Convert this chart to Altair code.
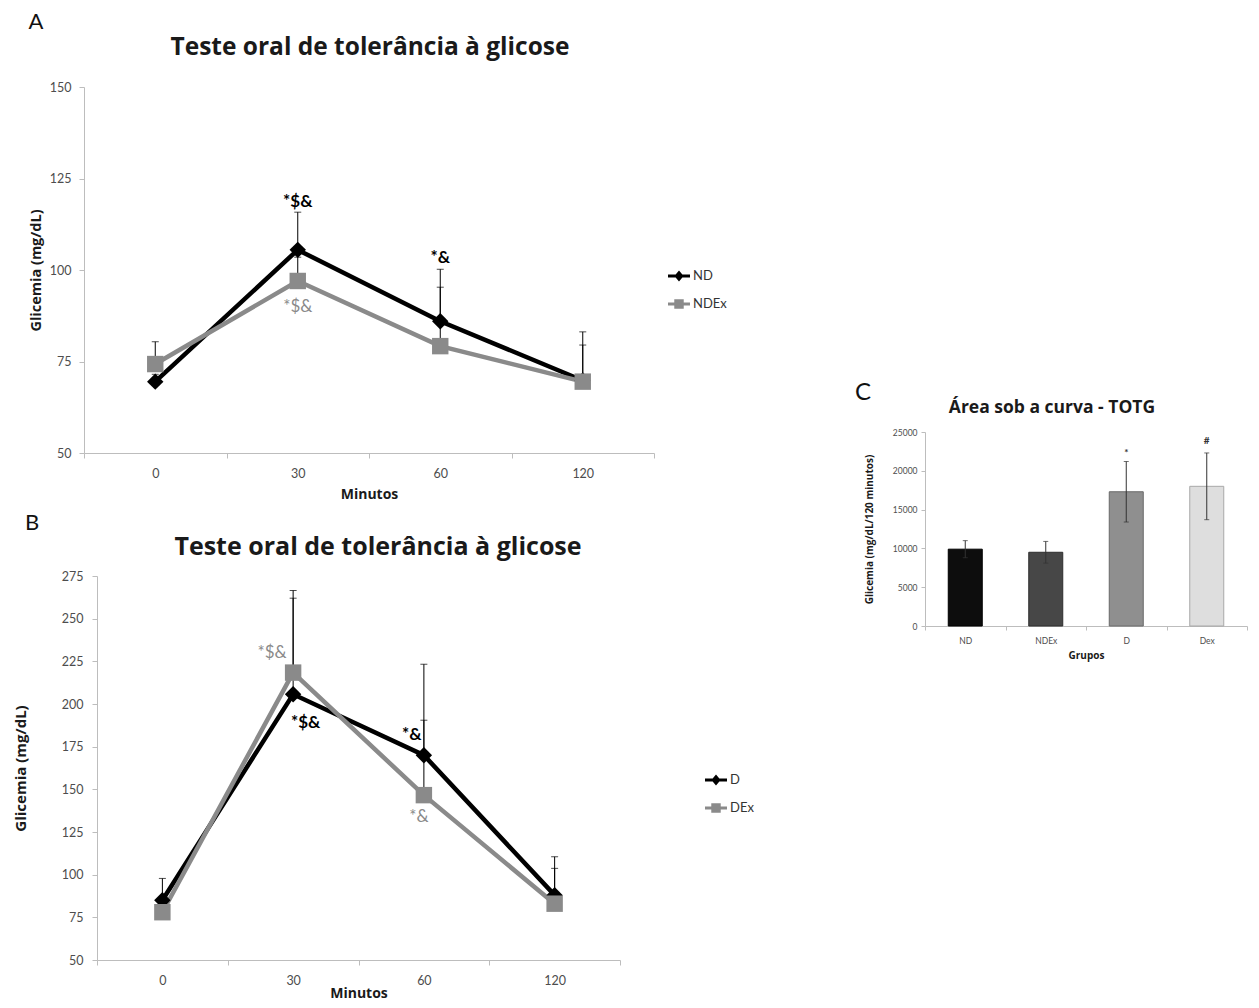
import altair as alt
import pandas as pd

FONT = "Lato"
TFONT = "Open Sans"

# ---------------- data ----------------
minutes = ["0", "30", "60", "120"]

a_series = ["ND", "NDEx"]
nd_mean = [69.5, 105.5, 86.0, 69.8]
nd_err = [2.0, 10.3, 14.2, 13.3]
ndex_mean = [74.3, 97.0, 79.2, 69.5]
ndex_err = [6.1, 6.5, 16.1, 10.0]

b_series = ["D", "DEx"]
d_mean = [85.0, 205.7, 170.0, 88.0]
d_err = [12.8, 60.8, 53.3, 22.5]
dex_mean = [78.0, 218.4, 146.6, 83.0]
dex_err = [6.0, 43.6, 43.9, 20.7]

groups = ["ND", "NDEx", "D", "Dex"]
auc_mean = [9900, 9500, 17300, 18000]
auc_err = [1100, 1400, 3900, 4300]

a_ann_text = ["*$&", "*$&", "*&"]
a_ann_minute = ["30", "30", "60"]
a_ann_value = [118.7, 90.0, 103.4]
a_ann_series = ["ND", "NDEx", "ND"]

b_ann_text = ["*$&", "*$&", "*&", "*&"]
b_ann_minute = ["30", "30", "60", "60"]
b_ann_value = [229.6, 188.6, 181.7, 133.9]
b_ann_series = ["DEx", "D", "D", "DEx"]

c_ann_text = ["*", "#"]
c_ann_group = ["D", "Dex"]
c_ann_value = [22300, 23900]

panel_letters = ["A", "B", "C"]
line_title = "Teste oral de tolerância à glicose"
auc_title = "Área sob a curva - TOTG"

# ---------------- styles ----------------
BLACK = "#000000"
GREY = "#8a8a8a"
AXIS_GREY = "#bdbdbd"
LABEL_GREY = "#4d4d4d"
TITLE_COL = "#1a1a1a"

LEG_PATHS = [
    "M-1,-0.14H1V0.14H-1Z M0,-0.5L0.42,0L0,0.5L-0.42,0Z",
    "M-1,-0.14H1V0.14H-1Z M-0.43,-0.43H0.43V0.43H-0.43Z",
]


def long_df(series, means_list, errs_list):
    rows = []
    for s, m, e in zip(series, means_list, errs_list):
        for t, mv, ev in zip(minutes, m, e):
            rows.append({"series": s, "minute": t, "value": mv, "upper": mv + ev})
    return pd.DataFrame(rows)


def line_panel(series, means_list, errs_list, ann_text, ann_minute, ann_value, ann_series,
               ann_dx, ydomain, yticks, w, h, title_size, title_dx, title_offset,
               letter, letter_xy, legend_xy, ylab_pad, ytitle_pad, xtitle_pad, ytitle_size):
    df = long_df(series, means_list, errs_list)
    base = alt.Chart(df)
    xaxis = alt.Axis(title="Minutos", labelAngle=0, tickBand="extent", domainColor=AXIS_GREY,
                     tickColor=AXIS_GREY, tickSize=5, labelFont=FONT, labelFontSize=12.5,
                     labelColor=LABEL_GREY, labelPadding=9, titleFont=TFONT, titleFontSize=14,
                     titleFontWeight="bold", titleColor=TITLE_COL, titlePadding=xtitle_pad, grid=False)
    yaxis = alt.Axis(title="Glicemia (mg/dL)", values=yticks, domainColor=AXIS_GREY,
                     tickColor=AXIS_GREY, tickSize=5, labelFont=FONT, labelFontSize=12.5,
                     labelColor=LABEL_GREY, labelPadding=ylab_pad, titleFont=TFONT,
                     titleFontSize=ytitle_size, titleFontWeight="bold", titleColor=TITLE_COL,
                     titlePadding=ytitle_pad, grid=False)
    xsc = alt.Scale(type="band", paddingInner=0, paddingOuter=0)
    ysc = alt.Scale(domain=ydomain, nice=False, zero=False)
    x = alt.X("minute:N", sort=minutes, scale=xsc, axis=xaxis)
    y = alt.Y("value:Q", scale=ysc, axis=yaxis)
    yu = alt.Y("upper:Q", scale=ysc, axis=yaxis)
    colors = [BLACK, GREY]
    shapes = ["diamond", "square"]
    layers = []
    for s, c in zip(series, colors):
        layers.append(base.transform_filter(alt.datum.series == s)
                      .mark_line(color=c, strokeWidth=4.5).encode(x=x, y=y))
    layers.append(base.mark_rule(color=BLACK, strokeWidth=1).encode(x=x, y=y, y2="upper:Q"))
    layers.append(base.mark_tick(color=BLACK, thickness=1, size=7).encode(x=x, y=yu))
    for s, c, sh in zip(series, colors, shapes):
        layers.append(base.transform_filter(alt.datum.series == s)
                      .mark_point(filled=True, opacity=1, color=c, shape=sh, size=270, strokeWidth=0)
                      .encode(x=x, y=y))
    adf = pd.DataFrame({"text": ann_text, "minute": ann_minute, "value": ann_value,
                        "series": ann_series})
    for i in range(len(adf)):
        first = adf["series"][i] == series[0]
        layers.append(alt.Chart(adf.iloc[[i]]).mark_text(
            font=FONT, fontSize=17, fontWeight="bold" if first else "normal",
            color=BLACK if first else GREY, baseline="middle", align="center", dx=ann_dx[i]
        ).encode(x=x, y=y, text="text:N"))
    layers.append(alt.Chart(pd.DataFrame({"t": [letter]})).mark_text(
        font=FONT, fontSize=22, color="#111111", baseline="middle", align="center"
    ).encode(text="t:N", x=alt.value(letter_xy[0]), y=alt.value(letter_xy[1])))
    leg = dict(title=None, orient="none", legendX=legend_xy[0], legendY=legend_xy[1],
               symbolSize=484, labelFont=FONT, labelFontSize=13, labelColor="#333333",
               rowPadding=10, labelOffset=3, symbolStrokeWidth=0, padding=0)
    layers.append(alt.Chart(pd.DataFrame({"series": series})).transform_filter("false")
                  .mark_point(filled=True, opacity=1, size=484).encode(
        color=alt.Color("series:N", scale=alt.Scale(domain=series, range=colors),
                        legend=alt.Legend(**leg)),
        shape=alt.Shape("series:N", scale=alt.Scale(domain=series, range=LEG_PATHS),
                        legend=alt.Legend(**leg))))
    return alt.layer(*layers).properties(
        width=w, height=h,
        title=alt.Title(line_title, font=TFONT, fontSize=title_size, fontWeight="bold",
                        color=TITLE_COL, anchor="middle", frame="group", dx=title_dx,
                        offset=title_offset))


panel_a = line_panel(a_series, [nd_mean, ndex_mean], [nd_err, ndex_err],
                     a_ann_text, a_ann_minute, a_ann_value, a_ann_series, [0, 0, 0],
                     [50, 150], [50, 75, 100, 125, 150], 570, 366, 24.5, 1, -49,
                     panel_letters[0], (-48, -65), (584, 178), 8, 6, 8, 14.5)
panel_b = line_panel(b_series, [d_mean, dex_mean], [d_err, dex_err],
                     b_ann_text, b_ann_minute, b_ann_value, b_ann_series, [-21, 12.5, -12, -5],
                     [50, 275], [50, 75, 100, 125, 150, 175, 200, 225, 250, 275], 523, 384,
                     25, 19.5, -48,
                     panel_letters[1], (-65, -53), (608, 193), 9, 33, 0, 15)

# ---------------- panel C ----------------
cdf = pd.DataFrame({"group": groups, "mean": auc_mean,
                    "low": [m - e for m, e in zip(auc_mean, auc_err)],
                    "high": [m + e for m, e in zip(auc_mean, auc_err)]})
cx_axis = alt.Axis(title="Grupos", labelAngle=0, tickBand="extent", domainColor=AXIS_GREY,
                   tickColor=AXIS_GREY, tickSize=4, labelFont=FONT, labelFontSize=8.5,
                   labelColor=LABEL_GREY, labelPadding=6, titleFont=TFONT, titleFontSize=10,
                   titleFontWeight="bold", titleColor=TITLE_COL, titlePadding=6, grid=False)
cy_axis = alt.Axis(title="Glicemia (mg/dL/120 minutos)", values=[0, 5000, 10000, 15000, 20000, 25000],
                   format="d", domainColor=AXIS_GREY, tickColor=AXIS_GREY, tickSize=4,
                   labelFont=FONT, labelFontSize=8.5, labelColor=LABEL_GREY, labelPadding=4,
                   titleFont=TFONT, titleFontSize=10, titleFontWeight="bold", titleColor=TITLE_COL,
                   titlePadding=18, grid=False)
cxs = alt.Scale(type="band", paddingInner=0, paddingOuter=0)
cys = alt.Scale(domain=[0, 25000], nice=False)
cx = alt.X("group:N", sort=groups, scale=cxs, axis=cx_axis)
cbase = alt.Chart(cdf)
c_bars = cbase.mark_bar(size=34, strokeWidth=1).encode(
    x=cx, y=alt.Y("mean:Q", scale=cys, axis=cy_axis),
    color=alt.Color("group:N", scale=alt.Scale(domain=groups,
                    range=["#0d0d0d", "#474747", "#8f8f8f", "#dedede"]), legend=None),
    stroke=alt.Stroke("group:N", scale=alt.Scale(domain=groups,
                      range=["#000000", "#2e2e2e", "#6a6a6a", "#a8a8a8"]), legend=None))
c_rule = cbase.mark_rule(color="#333333", strokeWidth=1).encode(
    x=cx, y=alt.Y("low:Q", scale=cys, axis=cy_axis), y2="high:Q")
c_cap_hi = cbase.mark_tick(color="#333333", thickness=1, size=5).encode(
    x=cx, y=alt.Y("high:Q", scale=cys, axis=cy_axis))
c_cap_lo = cbase.mark_tick(color="#333333", thickness=1, size=5).encode(
    x=cx, y=alt.Y("low:Q", scale=cys, axis=cy_axis))
c_ann = alt.Chart(pd.DataFrame({"text": c_ann_text, "group": c_ann_group, "value": c_ann_value})
                  ).mark_text(font=FONT, fontSize=10, fontWeight="bold", color="#333333",
                              baseline="middle").encode(
    x=cx, y=alt.Y("value:Q", scale=cys, axis=cy_axis), text="text:N")
c_letter = alt.Chart(pd.DataFrame({"t": [panel_letters[2]]})).mark_text(
    font=FONT, fontSize=24, color="#111111", baseline="middle", align="center"
).encode(text="t:N", x=alt.value(-62), y=alt.value(-39))
panel_c = alt.layer(c_bars, c_rule, c_cap_hi, c_cap_lo, c_ann, c_letter).properties(
    width=322, height=194,
    title=alt.Title(auc_title, font=TFONT, fontSize=17.5, fontWeight="bold", color=TITLE_COL,
                    anchor="middle", frame="group", dx=-34, offset=-35))


def spacer(w, h):
    return alt.Chart(pd.DataFrame({"s": [0]})).mark_point(opacity=0).encode(
        x=alt.X("s:Q", axis=None), y=alt.Y("s:Q", axis=None)).properties(width=w, height=h)


IND = dict(color="independent", shape="independent", stroke="independent")

row_b = alt.hconcat(spacer(13, 1), panel_b, spacing=0, bounds="flush").resolve_scale(**IND)
left = alt.vconcat(panel_a, row_b, spacing=123, bounds="flush").resolve_scale(**IND)
right = alt.vconcat(spacer(1, 1), panel_c, spacing=344, bounds="flush").resolve_scale(**IND)

chart = alt.hconcat(left, right, spacing=841, bounds="flush").resolve_scale(**IND).properties(
    padding={"left": 5, "top": 3, "right": 0, "bottom": 0}, background="white"
).configure_view(stroke=None)

chart.save("out.html", embed_options={"renderer": "svg", "actions": False})
